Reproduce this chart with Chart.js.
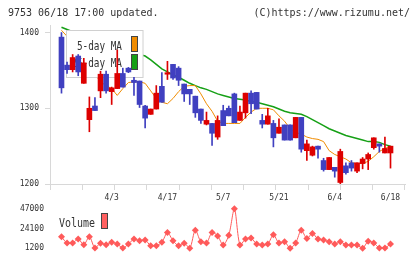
<!DOCTYPE html>
<html lang="en">
<head>
<meta charset="UTF-8">
<title>9753 Chart</title>
<script src="https://cdn.jsdelivr.net/npm/chart.js"></script>
<style>
    html, body { margin: 0; padding: 0; background: #fff; overflow: hidden; width: 420px; height: 259px; }
    #wrap { position: relative; width: 420px; height: 259px; overflow: hidden; }
    #wrap canvas { position: absolute; left: 0; top: 0; display: block; }
</style>
</head>
<body>
<div id="wrap">
    <canvas id="priceChart" width="420" height="259"></canvas>
    <canvas id="volumeChart" width="420" height="259"></canvas>
</div>
<script>
    // daily candles, oldest first
    const opens  = [1394,1357,1351,1369,1333,1285,1303,1323,1345,1322, 1326,1346,1353,1337,1336,1303,1292,1299,1329,1345,
                    1358,1353,1332,1325,1316,1299,1279,1280,1262,1297, 1300,1319,1284,1294,1320,1321,1284,1279,1280,1267,
                    1278,1278,1261,1288,1244,1238,1250,1231,1219,1222, 1202,1224,1228,1217,1227,1233,1248,1253,1241,1241];
    const highs  = [1400,1361,1371,1371,1366,1315,1314,1349,1349,1328, 1377,1353,1354,1341,1336,1304,1299,1330,1347,1362,
                    1358,1355,1332,1325,1316,1299,1295,1280,1290,1304, 1303,1320,1303,1320,1323,1321,1292,1300,1284,1286,
                    1278,1278,1288,1288,1258,1250,1250,1234,1235,1222, 1246,1228,1231,1228,1235,1241,1261,1253,1262,1250];
    const lows   = [1320,1346,1348,1343,1333,1269,1297,1314,1320,1305, 1326,1328,1347,1317,1301,1274,1292,1299,1308,1338,
                    1338,1330,1309,1305,1288,1280,1278,1251,1259,1277, 1290,1281,1284,1287,1293,1299,1274,1279,1249,1267,
                    1258,1258,1261,1242,1231,1237,1234,1217,1219,1209, 1200,1213,1217,1215,1220,1219,1246,1242,1241,1221];
    const closes = [1327,1351,1367,1348,1360,1300,1297,1345,1323,1327, 1346,1328,1348,1334,1305,1287,1299,1320,1308,1347,
                    1340,1337,1319,1319,1294,1284,1284,1267,1284,1277, 1290,1281,1295,1320,1306,1299,1279,1290,1261,1275,
                    1258,1258,1288,1246,1253,1249,1246,1219,1235,1217, 1243,1215,1221,1228,1233,1239,1261,1250,1247,1250];
    const ma5    = [1403,1395,1383,1371,1359,1351,1345,1335,1330,1326, 1317,1326,1334,1335,1335,1333,1323,1313,1308,1306,
                    1313,1322,1329,1330,1330,1319,1306,1296,1283,1280, 1280,1280,1280,1288,1295,1300,1300,1300,1298,1290,
                    1283,1273,1268,1266,1262,1260,1259,1256,1244,1239, 1236,1233,1228,1227,1227,1230,1236,1243,1247,1250];
    const ma25   = [1407,1404,1401,1398,1396,1393,1390,1388,1385,1383, 1380,1378,1376,1373,1371,1369,1364,1358,1352,1348,
                    1344,1341,1337,1333,1330,1327,1325,1322,1319,1317, 1315,1313,1312,1311,1309,1308,1306,1304,1302,1299,
                    1296,1294,1293,1292,1289,1285,1281,1277,1273,1270, 1267,1264,1262,1260,1258,1256,1256,1255,1252,1250];
    const volumes = [14500,7300,7300,11900,5300,14500,1500,6900,5300,8100, 6100,1500,6100,11900,9900,10700,4200,4200,8100,19500,
                     9900,4200,6900,1200,22200,8800,7300,19500,15600,5000, 16400,47300,5000,11900,13000,6100,5000,6100,16800,7300,
                     8800,1200,7300,22200,12600,18400,11900,10700,8800,6100, 8800,5000,5000,5000,1200,9200,7300,1500,1500,6100];

    const dateLabels = ['4/3', '4/17', '5/7', '5/21', '6/4', '6/18'];
    const dateIndex  = [9, 19, 29, 39, 49, 59];
    const priceTicks = [1200, 1300, 1400];
    const volumeTicks = [1200, 24100, 47000];

    const X_MIN = -2.06, X_MAX = 61.6;
    const UP = '#dd0000', DOWN = '#4040c0';
    const GRID = '#d8d8d8';
    const TEXT = '#333';

    const candleColors = closes.map((c, i) => c >= opens[i] ? UP : DOWN);
    const pts = arr => arr.map((v, i) => ({ x: i, y: v }));

    function squeezedText(ctx, text, x, y, sx, align) {
        ctx.save();
        ctx.translate(x, y);
        ctx.scale(sx, 1);
        ctx.font = '12px "DejaVu Sans Mono"';
        ctx.fillStyle = TEXT;
        ctx.textAlign = align;
        ctx.textBaseline = 'alphabetic';
        ctx.fillText(text, 0, 0);
        ctx.restore();
    }

    function swatch(ctx, x, y, color) {
        ctx.fillStyle = color;
        ctx.fillRect(x, y, 6, 15);
        ctx.strokeStyle = '#444';
        ctx.lineWidth = 1;
        ctx.strokeRect(x, y, 6, 15);
    }

    const priceDecor = {
        id: 'priceDecor',
        beforeDatasetDraw(chart, args) {
            // legend box sits above the MA lines but under the candles
            if (args.index !== 1) return;
            const ctx = chart.ctx;
            ctx.save();
            ctx.fillStyle = '#fff';
            ctx.fillRect(66.5, 30.5, 76.5, 47);
            ctx.strokeStyle = '#d0d0d0';
            ctx.lineWidth = 1;
            ctx.strokeRect(66.5, 30.5, 76.5, 47);
            squeezedText(ctx, '5-day MA', 122, 50, 0.78, 'right');
            squeezedText(ctx, '25-day MA', 122, 67, 0.78, 'right');
            swatch(ctx, 131.5, 36.5, '#f08c00');
            swatch(ctx, 131.5, 54.5, '#16a016');
            ctx.restore();
        },
        afterDraw(chart) {
            const ctx = chart.ctx;
            ctx.save();
            ctx.font = '10px "DejaVu Sans Mono"';
            ctx.fillStyle = TEXT;
            ctx.textBaseline = 'alphabetic';
            ctx.textAlign = 'left';
            ctx.fillText('9753 06/18 17:00 updated.', 8, 16);
            const right = '(C)https://www.rizumu.net/';
            ctx.fillText(right, 410 - ctx.measureText(right).width, 16);
            ctx.restore();
        }
    };

    const smallFont = { family: 'DejaVu Sans Mono', size: 8 };

    new Chart(document.getElementById('priceChart'), {
        type: 'bar',
        data: {
            datasets: [
                {
                    type: 'bar',
                    data: closes.map((c, i) => ({ x: i, y: [opens[i], c] })),
                    backgroundColor: candleColors,
                    barThickness: 5,
                    grouped: false,
                    order: 0
                },
                {
                    type: 'bar',
                    data: closes.map((c, i) => ({ x: i, y: [lows[i], highs[i]] })),
                    backgroundColor: candleColors,
                    barThickness: 1,
                    grouped: false,
                    order: 1
                },
                {
                    type: 'line',
                    data: pts(ma5),
                    borderColor: '#f08c00',
                    borderWidth: 1,
                    pointRadius: 0,
                    order: 2
                },
                {
                    type: 'line',
                    data: pts(ma25),
                    borderColor: '#16a016',
                    borderWidth: 1.5,
                    pointRadius: 0,
                    order: 3
                }
            ]
        },
        options: {
            responsive: false,
            animation: false,
            devicePixelRatio: 1,
            layout: { padding: { left: 0, right: 15, top: 25, bottom: 54 } },
            plugins: { legend: { display: false }, tooltip: { enabled: false } },
            scales: {
                x: {
                    type: 'linear', min: X_MIN, max: X_MAX, position: 'bottom', offset: false,
                    afterBuildTicks: s => {
                        s.ticks = Array.from({ length: 12 }, (_, k) => ({ value: X_MIN + k * (X_MAX - X_MIN) / 11 }));
                    },
                    afterFit: s => { s.height = 6; },
                    ticks: { display: false },
                    grid: { drawOnChartArea: false, tickLength: 6, color: GRID, offset: false },
                    border: { color: GRID }
                },
                x2: {
                    type: 'linear', min: X_MIN, max: X_MAX, position: 'bottom', offset: false,
                    afterBuildTicks: s => { s.ticks = dateIndex.map(v => ({ value: v })); },
                    afterFit: s => { s.height = 15; },
                    ticks: {
                        autoSkip: false, maxRotation: 0, padding: 3,
                        font: smallFont, color: TEXT,
                        callback: (v, i) => dateLabels[i]
                    },
                    grid: { display: false, drawTicks: false },
                    border: { display: false }
                },
                y: {
                    min: 1200, max: 1410,
                    afterBuildTicks: s => { s.ticks = priceTicks.map(v => ({ value: v })); },
                    afterFit: s => { s.width = 50; },
                    ticks: { padding: 6, font: smallFont, color: TEXT, callback: v => String(v) },
                    grid: { drawOnChartArea: false, tickLength: 5, color: GRID },
                    border: { color: GRID }
                }
            }
        },
        plugins: [priceDecor]
    });

    const volumeDecor = {
        id: 'volumeDecor',
        afterDatasetsDraw(chart) {
            const ctx = chart.ctx;
            ctx.save();
            squeezedText(ctx, 'Volume', 59, 226.5, 0.83, 'left');
            swatch(ctx, 101.5, 213.5, '#ff6060');
            ctx.restore();
        }
    };

    new Chart(document.getElementById('volumeChart'), {
        type: 'line',
        data: {
            datasets: [{
                data: pts(volumes),
                borderColor: '#ff5a5a',
                backgroundColor: '#ff5a5a',
                borderWidth: 1,
                pointStyle: 'rectRot',
                pointRadius: 3.5,
                pointBorderWidth: 0,
                tension: 0.3,
                clip: false
            }]
        },
        options: {
            responsive: false,
            animation: false,
            devicePixelRatio: 1,
            layout: { padding: { left: 0, right: 15, top: 209, bottom: 10 } },
            plugins: { legend: { display: false }, tooltip: { enabled: false } },
            scales: {
                x: { type: 'linear', min: X_MIN, max: X_MAX, display: false, offset: false },
                y: {
                    min: 1200, max: 47000,
                    afterBuildTicks: s => { s.ticks = volumeTicks.map(v => ({ value: v })); },
                    afterFit: s => { s.width = 50; },
                    ticks: { padding: 6, font: smallFont, color: TEXT, callback: v => String(v) },
                    grid: { display: false, drawTicks: false },
                    border: { display: false }
                }
            }
        },
        plugins: [volumeDecor]
    });
</script>
</body>
</html>
